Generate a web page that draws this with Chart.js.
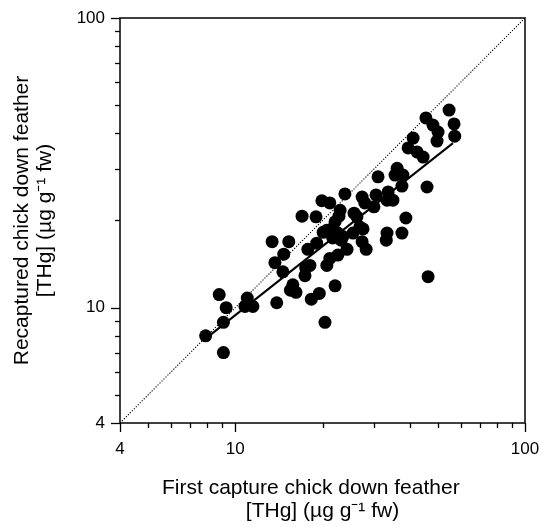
<!DOCTYPE html>
<html>
<head>
<meta charset="utf-8">
<script src="https://cdn.jsdelivr.net/npm/chart.js@4"></script>
<style>
  html, body { margin: 0; padding: 0; background: #fff; }
  #wrap { width: 542px; height: 527px; }
</style>
</head>
<body>
<div id="wrap"><canvas id="thgChart" width="542" height="527"></canvas></div>
<script>
// first capture vs recapture [THg], ug/g fw
const firstCapture = [
    7.9, 8.8, 9.1, 9.1, 9.3, 10.8, 11.0, 11.5, 13.9, 15.5,
    16.2, 15.8, 18.3, 19.5, 20.4, 22.1, 13.4, 15.3, 14.7, 13.7,
    14.6, 17.5, 17.4, 17.8, 19.1, 17.0, 19.0, 19.9, 22.8, 25.7,
    28.0, 30.1, 33.4, 35.0, 38.8, 37.6, 33.4, 33.2, 27.6, 27.4,
    28.3, 25.5, 24.3, 22.6, 20.7, 21.2, 20.1, 21.7, 22.6, 23.2,
    23.5, 22.1, 26.3, 46.3, 54.7, 45.5, 48.1, 50.1, 56.9, 57.2,
    49.7, 41.1, 39.5, 42.4, 44.5, 36.2, 35.6, 37.9, 31.1, 37.6,
    45.9, 33.7, 30.6, 27.4, 23.9, 21.2, 23.0, 20.7, 18.1, 26.9,
    21.7
];
const recaptured = [
    8.0, 11.1, 8.9, 7.0, 10.0, 10.1, 10.8, 10.1, 10.4, 11.5,
    11.3, 12.0, 10.7, 11.2, 8.9, 11.9, 16.9, 16.9, 15.3, 14.3,
    13.3, 13.7, 12.9, 15.9, 16.7, 20.7, 20.6, 23.4, 20.7, 21.2,
    23.0, 22.3, 23.5, 23.5, 20.4, 18.1, 18.1, 17.1, 18.7, 16.9,
    15.9, 18.1, 15.9, 15.2, 14.0, 14.8, 18.2, 18.8, 18.1, 17.1,
    17.6, 19.8, 20.6, 12.8, 48.1, 45.2, 42.7, 40.4, 43.1, 39.1,
    37.6, 38.5, 35.6, 34.5, 33.1, 30.3, 28.7, 28.7, 28.3, 26.3,
    26.1, 25.1, 24.5, 24.1, 24.7, 23.0, 21.7, 18.5, 14.0, 19.0,
    17.4
];

// regression line ends and 1:1 line
const fitX = [8.0, 56.4];
const fitY = [7.9, 37.0];
const unityLine = [4, 100];

const axisTicks = [4, 5, 6, 7, 8, 9, 10, 20, 30, 40, 50, 60, 70, 80, 90, 100];
const labeledTicks = [4, 10, 100];

const toPoints = (xs, ys) => xs.map((x, i) => ({x: x, y: ys[i]}));

// frame + major/minor ticks drawn from the scales
const frameTicks = {
    id: 'frameTicks',
    afterDraw(chart) {
        const ctx = chart.ctx;
        const a = chart.chartArea;
        ctx.save();
        ctx.strokeStyle = '#000';
        ctx.lineWidth = 1.5;
        ctx.strokeRect(a.left, a.top, a.right - a.left, a.bottom - a.top);
        ctx.lineWidth = 1.3;
        const xs = chart.scales.x, ys = chart.scales.y;
        axisTicks.forEach(v => {
            const len = labeledTicks.includes(v) ? 9 : 5;
            const px = Math.round(xs.getPixelForValue(v)) + 0.5;
            ctx.beginPath();
            ctx.moveTo(px, a.bottom);
            ctx.lineTo(px, a.bottom + len);
            ctx.stroke();
            const py = Math.round(ys.getPixelForValue(v)) + 0.5;
            ctx.beginPath();
            ctx.moveTo(a.left, py);
            ctx.lineTo(a.left - len, py);
            ctx.stroke();
        });
        ctx.restore();
    }
};

const axisFont = {family: 'Arial, "Liberation Sans", sans-serif', size: 17};
const titleFont = {family: 'Arial, "Liberation Sans", sans-serif', size: 21, lineHeight: 1.12};

const myChart = new Chart(document.getElementById('thgChart').getContext('2d'), {
    type: 'scatter',
    data: {
        datasets: [{
            label: 'chicks',
            data: toPoints(firstCapture, recaptured),
            backgroundColor: '#000',
            borderWidth: 0,
            pointRadius: 6.5,
            pointHoverRadius: 6.5
        }, {
            label: 'fit',
            data: toPoints(fitX, fitY),
            showLine: true,
            borderColor: '#000',
            borderWidth: 2,
            pointRadius: 0
        }, {
            label: '1:1',
            data: toPoints(unityLine, unityLine),
            showLine: true,
            borderColor: '#000',
            borderWidth: 1.1,
            borderDash: [1.2, 1.6],
            pointRadius: 0
        }]
    },
    options: {
        responsive: false,
        animation: false,
        layout: {padding: {top: 18, right: 17, left: 0, bottom: 0}},
        plugins: {
            legend: {display: false},
            tooltip: {enabled: false}
        },
        scales: {
            x: {
                type: 'logarithmic',
                min: 4,
                max: 100,
                afterBuildTicks: s => { s.ticks = axisTicks.map(v => ({value: v})); },
                afterFit: s => { s.height = 104; s.paddingLeft = 0; s.paddingRight = 0; },
                grid: {display: false, drawTicks: true, tickLength: 9},
                border: {display: false},
                ticks: {
                    color: '#000',
                    font: axisFont,
                    padding: 7,
                    maxRotation: 0,
                    autoSkip: false,
                    callback: v => labeledTicks.includes(v) ? String(v) : ''
                },
                title: {
                    display: true,
                    text: ['First capture chick down feather    ', '[THg] (\u00b5g g\u207b\u00b9 fw)'],
                    color: '#000',
                    font: titleFont,
                    padding: {top: 0, bottom: 4}
                }
            },
            y: {
                type: 'logarithmic',
                min: 4,
                max: 100,
                afterBuildTicks: s => { s.ticks = axisTicks.map(v => ({value: v})); },
                afterFit: s => { s.width = 120; s.paddingTop = 0; s.paddingBottom = 0; },
                grid: {display: false, drawTicks: true, tickLength: 9},
                border: {display: false},
                ticks: {
                    color: '#000',
                    font: axisFont,
                    padding: 6,
                    autoSkip: false,
                    callback: v => labeledTicks.includes(v) ? String(v) : ''
                },
                title: {
                    display: true,
                    text: ['Recaptured chick down feather', '[THg] (\u00b5g g\u207b\u00b9 fw)'],
                    color: '#000',
                    font: titleFont,
                    padding: {top: 10, bottom: 0}
                }
            }
        }
    },
    plugins: [frameTicks]
});
</script>
</body>
</html>
